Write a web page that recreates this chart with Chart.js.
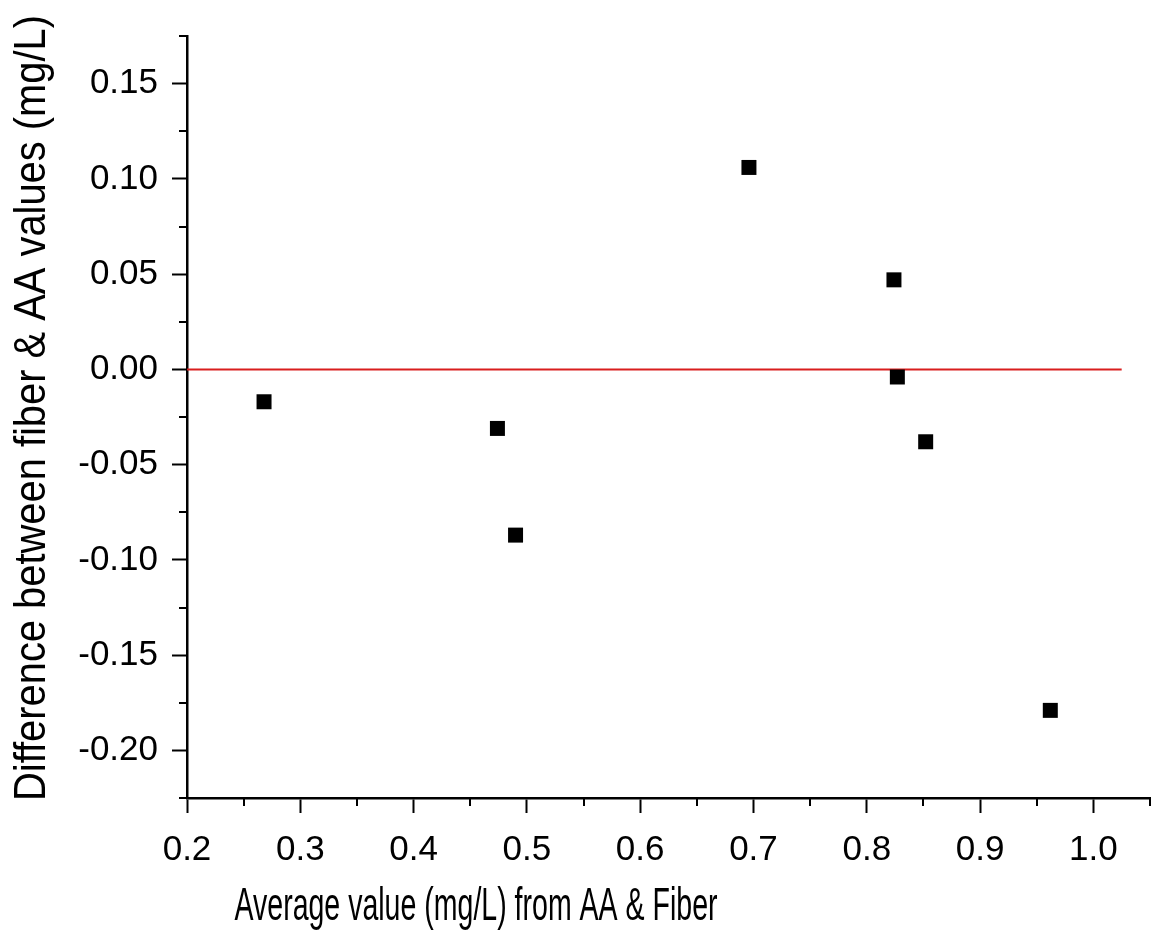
<!DOCTYPE html>
<html>
<head>
<meta charset="utf-8">
<script src="https://cdn.jsdelivr.net/npm/chart.js@4/dist/chart.umd.min.js"></script>
<style>
  html, body { margin: 0; padding: 0; background: #fff; overflow: hidden; }
  #wrap { width: 1152px; height: 939px; }
  #diffChart { display: block; }
</style>
</head>
<body>
<div id="wrap"><canvas id="diffChart"></canvas></div>
<script>
// Bland-Altman style data
const avgValues = [0.268, 0.474, 0.490, 0.696, 0.824, 0.827, 0.852, 0.962];
const diffValues = [-0.017, -0.031, -0.087, 0.106, 0.047, -0.004, -0.038, -0.179];

// zero reference line
const zeroLineX = [0.2, 1.025];
const zeroLineY = [0, 0];

// axes
const xMajorTicks = [0.2, 0.3, 0.4, 0.5, 0.6, 0.7, 0.8, 0.9, 1.0];
const xMinorTicks = [0.25, 0.35, 0.45, 0.55, 0.65, 0.75, 0.85, 0.95, 1.05];
const yMajorTicks = [-0.20, -0.15, -0.10, -0.05, 0.00, 0.05, 0.10, 0.15];
const yMinorTicks = [-0.225, -0.175, -0.125, -0.075, -0.025, 0.025, 0.075, 0.125, 0.175];

const xTitle = 'Average value (mg/L) from AA & Fiber';
const yTitle = 'Difference between fiber & AA values (mg/L)';

const FONT = "'Liberation Sans', Arial, sans-serif";

// draws text squeezed to a given length (the figure uses a narrow face for titles)
function drawNarrow(ctx, text, size, length) {
    ctx.font = size + 'px ' + FONT;
    const w = ctx.measureText(text).width;
    ctx.scale(length / w, 1);
    ctx.fillText(text, 0, 0);
}

// minor ticks + axis titles
const extrasPlugin = {
    id: 'extras',
    afterDraw(chart) {
        const ctx = chart.ctx;
        const xs = chart.scales.x, ys = chart.scales.y;
        const area = chart.chartArea;
        ctx.save();
        ctx.strokeStyle = '#000';
        ctx.lineWidth = 2;
        ctx.beginPath();
        xMinorTicks.forEach(v => {
            const px = Math.round(xs.getPixelForValue(v));
            ctx.moveTo(px, area.bottom);
            ctx.lineTo(px, area.bottom + 8);
        });
        yMinorTicks.forEach(v => {
            const py = Math.round(ys.getPixelForValue(v));
            ctx.moveTo(area.left, py);
            ctx.lineTo(area.left - 8, py);
        });
        ctx.stroke();
        ctx.restore();

        ctx.save();
        ctx.fillStyle = '#000';
        ctx.textBaseline = 'alphabetic';
        ctx.textAlign = 'center';
        ctx.translate(476, 920);
        drawNarrow(ctx, xTitle, 47, 483);
        ctx.restore();

        ctx.save();
        ctx.fillStyle = '#000';
        ctx.textBaseline = 'alphabetic';
        ctx.textAlign = 'center';
        ctx.translate(45, 408);
        ctx.rotate(-Math.PI / 2);
        drawNarrow(ctx, yTitle, 44, 786);
        ctx.restore();
    }
};

const ctx = document.getElementById('diffChart').getContext('2d');
new Chart(ctx, {
    type: 'scatter',
    data: {
        datasets: [
            {
                label: 'difference',
                data: avgValues.map((x, i) => ({ x: x, y: diffValues[i] })),
                pointStyle: 'rect',
                pointRadius: 10.6,
                pointHoverRadius: 10.6,
                pointBorderWidth: 0,
                backgroundColor: '#000',
                borderColor: '#000'
            },
            {
                type: 'line',
                label: 'zero',
                data: zeroLineX.map((x, i) => ({ x: x, y: zeroLineY[i] })),
                borderColor: '#d91e1e',
                borderWidth: 2,
                pointRadius: 0,
                fill: false
            }
        ]
    },
    options: {
        responsive: true,
        maintainAspectRatio: false,
        animation: false,
        layout: { autoPadding: false, padding: { top: 36, right: 2, left: 0, bottom: 0 } },
        plugins: {
            legend: { display: false },
            tooltip: { enabled: false }
        },
        scales: {
            x: {
                type: 'linear',
                min: 0.2,
                max: 1.05,
                afterBuildTicks: scale => { scale.ticks = xMajorTicks.map(v => ({ value: v })); },
                afterFit: scale => {
                    scale.height = 141;
                    scale.paddingLeft = 0;
                    scale.paddingRight = 0;
                },
                border: { display: true, color: '#000', width: 2.5 },
                grid: { drawOnChartArea: false, drawTicks: true, tickLength: 15, tickColor: '#000', tickWidth: 2 },
                ticks: {
                    color: '#000',
                    padding: 16,
                    maxRotation: 0,
                    font: { family: FONT, size: 35 },
                    callback: v => Number(v).toFixed(1)
                }
            },
            y: {
                type: 'linear',
                min: -0.225,
                max: 0.175,
                afterBuildTicks: scale => { scale.ticks = yMajorTicks.map(v => ({ value: v })); },
                afterFit: scale => {
                    scale.width = 187;
                    scale.paddingTop = 0;
                    scale.paddingBottom = 0;
                },
                border: { display: true, color: '#000', width: 2.5 },
                grid: { drawOnChartArea: false, drawTicks: true, tickLength: 15, tickColor: '#000', tickWidth: 2 },
                ticks: {
                    color: '#000',
                    padding: 14,
                    font: { family: FONT, size: 35 },
                    callback: v => Number(v).toFixed(2)
                }
            }
        }
    },
    plugins: [extrasPlugin]
});
</script>
</body>
</html>
